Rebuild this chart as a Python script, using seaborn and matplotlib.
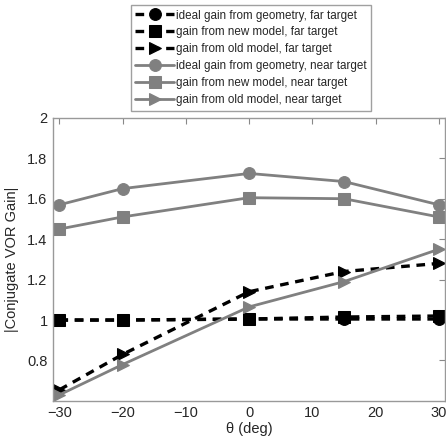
import matplotlib
matplotlib.use("Agg")
import matplotlib.pyplot as plt
import seaborn as sns
import numpy as np

sns.set_style("white")
plt.rcParams['font.family'] = ['Liberation Sans', 'DejaVu Sans']

theta = [-30, -20, 0, 15, 30]

ideal_far = [1.0, 1.0, 1.005, 1.005, 1.005]
new_far = [1.0, 1.0, 1.005, 1.015, 1.02]
old_far = [0.655, 0.83, 1.14, 1.24, 1.28]
ideal_near = [1.57, 1.65, 1.725, 1.685, 1.57]
new_near = [1.45, 1.51, 1.605, 1.60, 1.51]
old_near = [0.63, 0.78, 1.065, 1.19, 1.35]

labels = ["ideal gain from geometry, far target",
          "gain from new model, far target",
          "gain from old model, far target",
          "ideal gain from geometry, near target",
          "gain from new model, near target",
          "gain from old model, near target"]

fig = plt.figure(figsize=(4.46, 4.43), dpi=100)
ax = fig.add_axes([0.119, 0.095, 0.879, 0.639])

gray = "#808080"
series = [
    (ideal_far, "black", "--", "o"),
    (new_far, "black", "--", "s"),
    (old_far, "black", "--", ">"),
    (ideal_near, gray, "-", "o"),
    (new_near, gray, "-", "s"),
    (old_near, gray, "-", ">"),
]
for (vals, col, ls, mk), lab in zip(series, labels):
    lw = 2.4 if col == "black" else 2.0
    sns.lineplot(x=theta, y=vals, ax=ax, color=col, marker=mk,
                 markersize=8.5, markeredgecolor=col, linewidth=lw, label=lab)
    ax.lines[-1].set_linestyle(ls)
    if ls == "--":
        ax.lines[-1].set_dashes((2.6, 2.0))

ax.set_xlim(-31, 31)
ax.set_ylim(0.6, 2)
ax.set_xticks([-30, -20, -10, 0, 10, 20, 30])
ax.set_yticks([0.8, 1, 1.2, 1.4, 1.6, 1.8, 2])
ax.set_yticklabels(["0.8", "1", "1.2", "1.4", "1.6", "1.8", "2"])
ax.tick_params(direction="in", top=True, right=True, length=4, width=0.8,
               color="#888888", labelsize=10.5, pad=4)
for s in ax.spines.values():
    s.set_color("#999999")
    s.set_linewidth(1.0)
ax.set_xlabel("θ (deg)", fontsize=10.5, labelpad=1)
ax.set_ylabel("|Conjugate VOR Gain|", fontsize=10.5, labelpad=6)

ax.legend(loc="upper center", bbox_to_anchor=(0.563, 0.989),
          bbox_transform=fig.transFigure, fontsize=8.4, frameon=True,
          fancybox=False, edgecolor="#888888", handlelength=3.3,
          handletextpad=0.2, borderpad=0.4, labelspacing=0.42,
          borderaxespad=0)

fig.savefig("out.png", dpi=100)
